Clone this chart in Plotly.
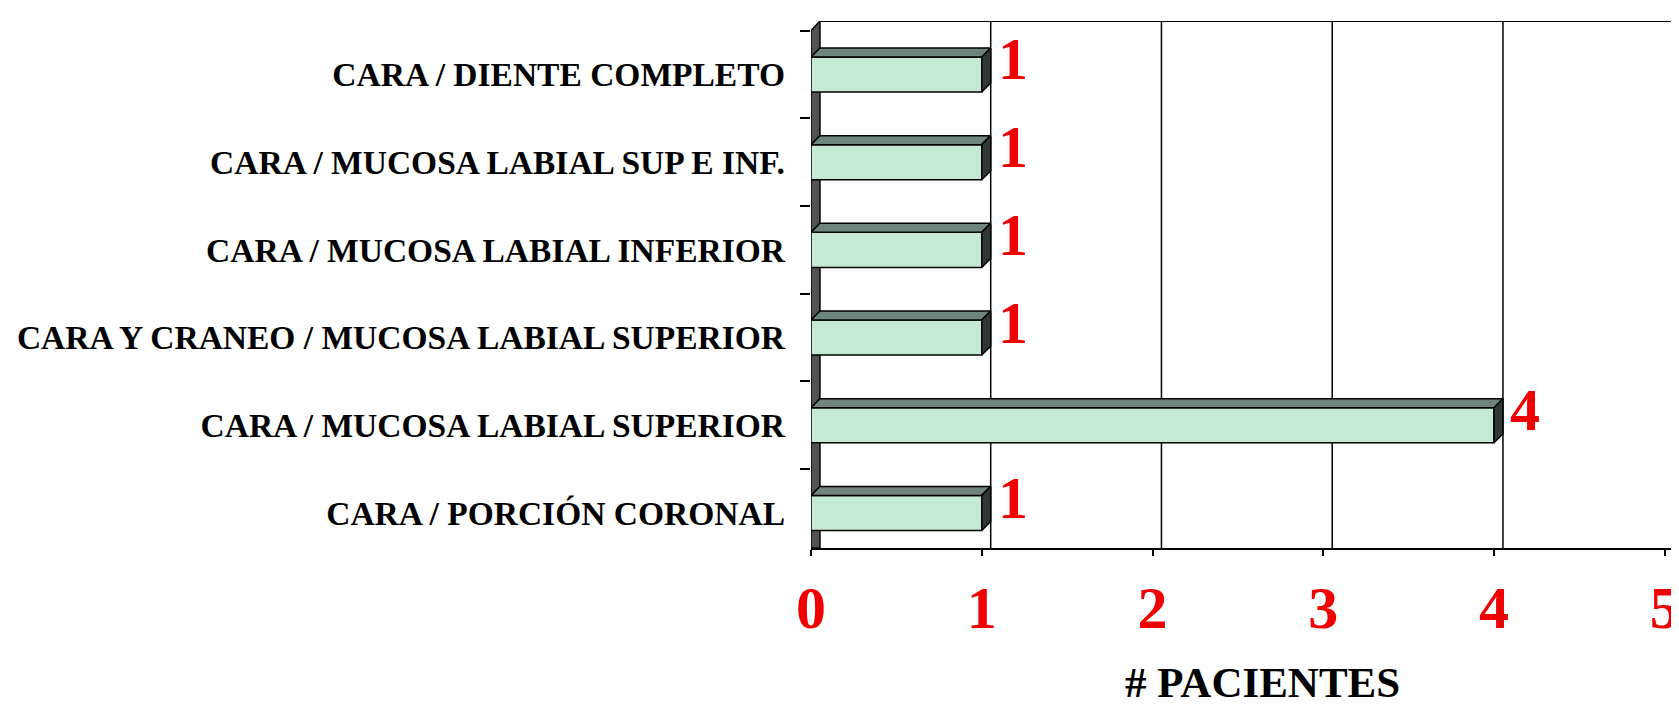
import plotly.graph_objects as go

# === Datos (de abajo hacia arriba) ===
categorias = [
    "CARA / PORCIÓN CORONAL",
    "CARA / MUCOSA LABIAL SUPERIOR",
    "CARA Y CRANEO / MUCOSA LABIAL SUPERIOR",
    "CARA / MUCOSA LABIAL INFERIOR",
    "CARA / MUCOSA LABIAL SUP E INF.",
    "CARA / DIENTE COMPLETO",
]
pacientes = [1, 4, 1, 1, 1, 1]
ticks_x = [0, 1, 2, 3, 4, 5]

FUENTE = "Liberation Serif, Times New Roman, serif"
ROJO = "#f00000"
CARA_FRENTE = "#c4e9d4"
CARA_ARRIBA = "#6f8579"
CARA_LADO = "#2e3834"
PARED = "#50554f"

# profundidad del efecto 3D (en unidades de los ejes)
W = 0.40
DX = 0.0524
DY = 0.1026
Y0, Y1 = -0.40, 5.61
X1 = 5.06

pos = list(range(len(categorias)))

fig = go.Figure()

# caras superiores y laterales de las barras
for i, v in zip(pos, pacientes):
    top = i + W / 2
    bot = i - W / 2
    fig.add_trace(go.Scatter(
        x=[0, v, v + DX, DX, 0], y=[top, top, top + DY, top + DY, top],
        fill="toself", fillcolor=CARA_ARRIBA, mode="lines",
        line=dict(color="black", width=1.5), hoverinfo="skip", showlegend=False))
    fig.add_trace(go.Scatter(
        x=[v, v, v + DX, v + DX, v], y=[bot, top, top + DY, bot + DY, bot],
        fill="toself", fillcolor=CARA_LADO, mode="lines",
        line=dict(color="black", width=1.5), hoverinfo="skip", showlegend=False))

# cara frontal
fig.add_trace(go.Bar(
    x=pacientes, y=pos, orientation="h", width=W,
    marker=dict(color=CARA_FRENTE, line=dict(color="black", width=1.5)),
    showlegend=False))

# etiquetas de valor
for i, v in zip(pos, pacientes):
    fig.add_annotation(x=v, y=i, text=str(v), showarrow=False,
                       xanchor="center", yanchor="middle", xshift=31, yshift=15,
                       font=dict(family=FUENTE, size=60, color=ROJO, weight="bold"))

# paredes: lateral izquierda, fondo y rejilla
fig.add_shape(type="path", layer="below",
              path=f"M 0 {Y0} L 0 {len(pos) - 0.5} L {DX} {Y1} L {DX} {Y0} Z",
              fillcolor=PARED, line=dict(color="black", width=1.5))
fig.add_shape(type="line", layer="below", x0=DX, x1=5 + DX, y0=Y1, y1=Y1,
              line=dict(color="black", width=2))
for k in ticks_x[1:]:
    fig.add_shape(type="line", layer="below", x0=k + DX, x1=k + DX, y0=Y0, y1=Y1,
                  line=dict(color="black", width=1.5))

fig.add_annotation(text="<b># PACIENTES</b>", xref="paper", yref="paper",
                   x=0.5224, y=-0.302, xanchor="center", yanchor="bottom",
                   borderpad=0, showarrow=False,
                   font=dict(family=FUENTE, size=43, color="black"))

fig.update_layout(
    width=1679, height=705,
    margin=dict(l=803, r=7, t=13, b=165),
    paper_bgcolor="white", plot_bgcolor="white",
    xaxis=dict(range=[0, X1], tickvals=ticks_x, showgrid=False, zeroline=False,
               showline=True, linecolor="black", linewidth=2,
               ticks="outside", ticklen=6, tickwidth=2, tickcolor="black",
               ticklabelstandoff=0,
               tickfont=dict(family=FUENTE, size=60, color=ROJO, weight="bold")),
    yaxis=dict(range=[Y0, Y1], tickvals=pos, ticktext=categorias,
               showgrid=False, zeroline=False, showline=False, ticks="",
               ticklabelstandoff=25,
               minor=dict(tickvals=[p + 0.5 for p in pos], ticks="outside",
                          ticklen=10, tickwidth=1.5, tickcolor="black", showgrid=False),
               tickfont=dict(family=FUENTE, size=33.5, color="black", weight="bold")),
)

fig.write_html("out.html")
